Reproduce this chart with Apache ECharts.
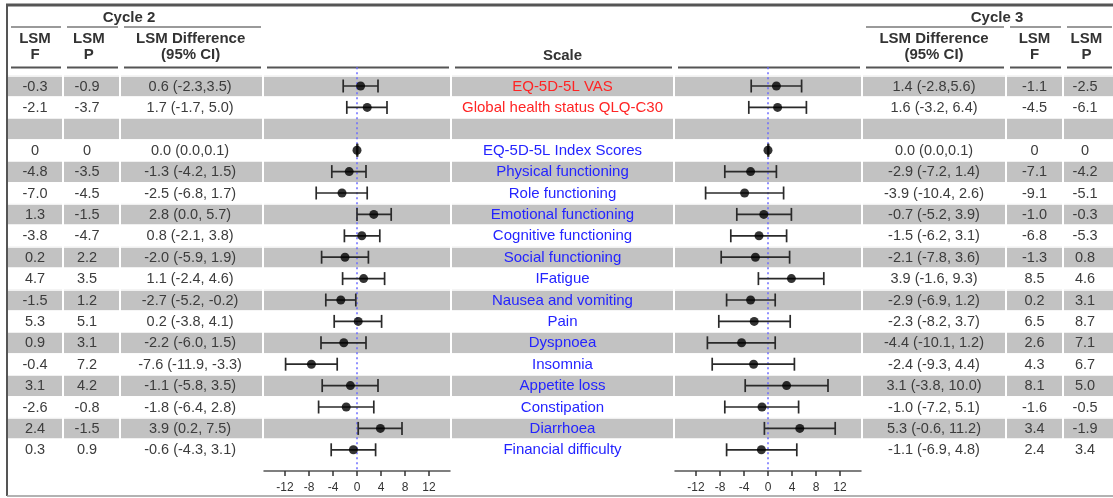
<!DOCTYPE html>
<html>
<head>
<meta charset="utf-8">
<script src="https://cdn.jsdelivr.net/npm/echarts@6/dist/echarts.min.js"></script>
<style>
  html, body { margin: 0; padding: 0; background: #fff; }
  #chart { width: 1113px; height: 498px; }
</style>
</head>
<body>
<div id="chart"></div>
<script>
// rows top to bottom, '' = blank separator row
var scales = ['EQ-5D-5L VAS', 'Global health status QLQ-C30', '', 'EQ-5D-5L Index Scores',
  'Physical functioning', 'Role functioning', 'Emotional functioning', 'Cognitive functioning',
  'Social functioning', 'IFatigue', 'Nausea and vomiting', 'Pain', 'Dyspnoea', 'Insomnia',
  'Appetite loss', 'Constipation', 'Diarrhoea', 'Financial difficulty'];
var redRows = [0, 1];

// Cycle 2
var lsmF2 = [-0.3, -2.1, null, 0, -4.8, -7.0, 1.3, -3.8, 0.2, 4.7, -1.5, 5.3, 0.9, -0.4, 3.1, -2.6, 2.4, 0.3];
var lsmP2 = [-0.9, -3.7, null, 0, -3.5, -4.5, -1.5, -4.7, 2.2, 3.5, 1.2, 5.1, 3.1, 7.2, 4.2, -0.8, -1.5, 0.9];
var diff2 = [0.6, 1.7, null, 0.0, -1.3, -2.5, 2.8, 0.8, -2.0, 1.1, -2.7, 0.2, -2.2, -7.6, -1.1, -1.8, 3.9, -0.6];
var lo2   = [-2.3, -1.7, null, 0.0, -4.2, -6.8, 0.0, -2.1, -5.9, -2.4, -5.2, -3.8, -6.0, -11.9, -5.8, -6.4, 0.2, -4.3];
var hi2   = [3.5, 5.0, null, 0.1, 1.5, 1.7, 5.7, 3.8, 1.9, 4.6, -0.2, 4.1, 1.5, -3.3, 3.5, 2.8, 7.5, 3.1];

// Cycle 3
var diff3 = [1.4, 1.6, null, 0.0, -2.9, -3.9, -0.7, -1.5, -2.1, 3.9, -2.9, -2.3, -4.4, -2.4, 3.1, -1.0, 5.3, -1.1];
var lo3   = [-2.8, -3.2, null, 0.0, -7.2, -10.4, -5.2, -6.2, -7.8, -1.6, -6.9, -8.2, -10.1, -9.3, -3.8, -7.2, -0.6, -6.9];
var hi3   = [5.6, 6.4, null, 0.1, 1.4, 2.6, 3.9, 3.1, 3.6, 9.3, 1.2, 3.7, 1.2, 4.4, 10.0, 5.1, 11.2, 4.8];
var lsmF3 = [-1.1, -4.5, null, 0, -7.1, -9.1, -1.0, -6.8, -1.3, 8.5, 0.2, 6.5, 2.6, 4.3, 8.1, -1.6, 3.4, 2.4];
var lsmP3 = [-2.5, -6.1, null, 0, -4.2, -5.1, -0.3, -5.3, 0.8, 4.6, 3.1, 8.7, 7.1, 6.7, 5.0, -0.5, -1.9, 3.4];

var tightRows = [0, 3];   // these CIs are printed without a space
var xTicks = [-12, -8, -4, 0, 4, 8, 12];

var FONT = '"Liberation Sans", Arial, sans-serif';
var TXT = '#3c3c3c';

function fmtLsm(v) {
  if (v === null) return '';
  return v === 0 ? '0' : v.toFixed(1);
}
function fmtDiff(d, lo, hi) {
  return d.map(function (v, i) {
    if (v === null) return '';
    var sep = tightRows.indexOf(i) >= 0 ? ',' : ', ';
    return v.toFixed(1) + ' (' + lo[i].toFixed(1) + sep + hi[i].toFixed(1) + ')';
  });
}

// column layout (pixels)
var cols = [
  { l: 8,    r: 62,   kind: 'text', texts: lsmF2.map(fmtLsm), tx: 0.5,  head: 'LSM\nF' },
  { l: 64,   r: 119,  kind: 'text', texts: lsmP2.map(fmtLsm), tx: 0.42, head: 'LSM\nP' },
  { l: 121,  r: 262,  kind: 'text', texts: fmtDiff(diff2, lo2, hi2), tx: 0.49, head: 'LSM Difference\n(95% CI)' },
  { l: 264,  r: 450,  kind: 'plot', d: diff2, lo: lo2, hi: hi2 },
  { l: 452,  r: 673,  kind: 'scale', texts: scales, tx: 0.5, head: 'Scale' },
  { l: 675,  r: 861,  kind: 'plot', d: diff3, lo: lo3, hi: hi3 },
  { l: 863,  r: 1005, kind: 'text', texts: fmtDiff(diff3, lo3, hi3), tx: 0.5, head: 'LSM Difference\n(95% CI)' },
  { l: 1007, r: 1062, kind: 'text', texts: lsmF3.map(fmtLsm), tx: 0.5, head: 'LSM\nF' },
  { l: 1064, r: 1113, kind: 'text', texts: lsmP3.map(fmtLsm), tx: 0.43, head: 'LSM\nP' }
];

var gridTop = 75.3, rowH = 21.4;
var gridH = rowH * scales.length;

var grids = [], xAxes = [], yAxes = [], series = [];
var graphic = [];

cols.forEach(function (c, i) {
  grids.push({ left: c.l, top: gridTop, width: c.r - c.l, height: gridH,
    containLabel: false, outerBoundsMode: 'none' });

  yAxes.push({
    gridIndex: i, type: 'category', inverse: true,
    data: scales.map(function (s, k) { return String(k); }),
    axisLine: { show: false }, axisTick: { show: false }, axisLabel: { show: false },
    splitArea: { show: true, areaStyle: { color: ['#c2c2c2', '#ffffff'] } },
    splitLine: { show: true, lineStyle: { color: '#ffffff', width: 1.5 } }
  });

  if (c.kind === 'plot') {
    xAxes.push({
      gridIndex: i, type: 'value', min: -15.5, max: 15.5, position: 'bottom', offset: 10.5,
      axisLine: { show: true, onZero: false, lineStyle: { color: '#555', width: 1.5 } },
      axisTick: { show: true, customValues: xTicks, length: 5, lineStyle: { color: '#333', width: 1.5 } },
      axisLabel: { customValues: xTicks, margin: 11, fontSize: 12, color: '#333', fontFamily: FONT },
      splitLine: { show: false }
    });

    // dotted reference line at 0
    series.push({
      type: 'custom', xAxisIndex: i, yAxisIndex: i, z: 2, silent: true,
      data: [[0, 0]], encode: { x: 0, y: 1 },
      renderItem: function (params, api) {
        var top = api.coord([0, 0]);
        var bot = api.coord([0, scales.length - 1]);
        var h = api.size([0, 1])[1];
        return { type: 'line',
          shape: { x1: top[0], y1: top[1] - h / 2 - 8, x2: bot[0], y2: bot[1] + h / 2 + 10.5 },
          style: { stroke: '#6b6bff', lineWidth: 1.5, lineDash: [2, 3] } };
      }
    });

    // confidence intervals
    var ci = [];
    c.d.forEach(function (v, k) { if (v !== null) ci.push([k, c.lo[k], c.hi[k]]); });
    series.push({
      type: 'custom', xAxisIndex: i, yAxisIndex: i, z: 3, silent: true,
      data: ci, encode: { x: [1, 2], y: 0 },
      renderItem: function (params, api) {
        var y = api.value(0);
        var a = api.coord([api.value(1), y]);
        var b = api.coord([api.value(2), y]);
        var cap = 6.5;
        var st = { stroke: '#2a2a2a', lineWidth: 1.7 };
        return { type: 'group', children: [
          { type: 'line', shape: { x1: a[0], y1: a[1], x2: b[0], y2: b[1] }, style: st },
          { type: 'line', shape: { x1: a[0], y1: a[1] - cap, x2: a[0], y2: a[1] + cap }, style: st },
          { type: 'line', shape: { x1: b[0], y1: b[1] - cap, x2: b[0], y2: b[1] + cap }, style: st }
        ] };
      }
    });

    // point estimates
    var pts = [];
    c.d.forEach(function (v, k) { if (v !== null) pts.push([v, k]); });
    series.push({
      type: 'scatter', xAxisIndex: i, yAxisIndex: i, z: 4, silent: true,
      symbol: 'circle', symbolSize: 9, itemStyle: { color: '#000' }, data: pts
    });
  } else {
    xAxes.push({ gridIndex: i, type: 'value', min: 0, max: 1, show: false });

    var rows = [];
    c.texts.forEach(function (t, k) { if (t !== '') rows.push({ k: k, t: t }); });
    var isScale = c.kind === 'scale';
    series.push({
      type: 'custom', xAxisIndex: i, yAxisIndex: i, z: 3, silent: true,
      data: rows.map(function (r) { return [c.tx, r.k]; }), encode: { x: 0, y: 1 },
      renderItem: (function (rows, isScale) {
        return function (params, api) {
          var r = rows[params.dataIndex];
          var p = api.coord([api.value(0), api.value(1)]);
          var color = TXT;
          if (isScale) color = redRows.indexOf(r.k) >= 0 ? '#ff2424' : '#2424ff';
          return { type: 'text', style: {
            text: r.t, x: p[0], y: p[1] + 0.5, align: 'center', verticalAlign: 'middle',
            fill: color, fontSize: isScale ? 15 : 14.5, fontFamily: FONT } };
        };
      })(rows, isScale)
    });
  }

  // header underline
  graphic.push({ type: 'line', shape: { x1: c.l + 3, y1: 67.5, x2: c.r - 1, y2: 67.5 },
    style: { stroke: '#555', lineWidth: 2 } });
  if (c.head) {
    var two = c.head.indexOf('\n') >= 0;
    graphic.push({ type: 'text', x: (c.l + c.r) / 2 + (c.tx - 0.5) * (c.r - c.l) * (c.kind === 'text' ? 0.6 : 0),
      y: two ? 46.5 : 56,
      style: { text: c.head, align: 'center', verticalAlign: 'middle', lineHeight: 16,
        fill: '#333', fontSize: 15, fontWeight: 'bold', fontFamily: FONT } });
  }
});

// cycle headers and their underlines
[[0, 1, 2], [6, 7, 8]].forEach(function (g) {
  g.forEach(function (k) {
    var c = cols[k];
    graphic.push({ type: 'line', shape: { x1: c.l + 3, y1: 27, x2: c.r - 1, y2: 27 },
      style: { stroke: '#9a9a9a', lineWidth: 2 } });
  });
});
graphic.push({ type: 'text', x: 129, y: 17.5, style: { text: 'Cycle 2', align: 'center',
  verticalAlign: 'middle', fill: '#333', fontSize: 15, fontWeight: 'bold', fontFamily: FONT } });
graphic.push({ type: 'text', x: 997, y: 17.5, style: { text: 'Cycle 3', align: 'center',
  verticalAlign: 'middle', fill: '#333', fontSize: 15, fontWeight: 'bold', fontFamily: FONT } });

// frame
graphic.push({ type: 'line', shape: { x1: 6, y1: 5, x2: 1113, y2: 5 }, style: { stroke: '#555', lineWidth: 3 } });
graphic.push({ type: 'line', shape: { x1: 7, y1: 4, x2: 7, y2: 496 }, style: { stroke: '#555', lineWidth: 2 } });
graphic.push({ type: 'line', shape: { x1: 7, y1: 496, x2: 1113, y2: 496 }, style: { stroke: '#999', lineWidth: 1.5 } });

var chart = echarts.init(document.getElementById('chart'));
chart.setOption({
  animation: false,
  backgroundColor: '#fff',
  grid: grids,
  xAxis: xAxes,
  yAxis: yAxes,
  series: series,
  graphic: graphic
});
</script>
</body>
</html>
